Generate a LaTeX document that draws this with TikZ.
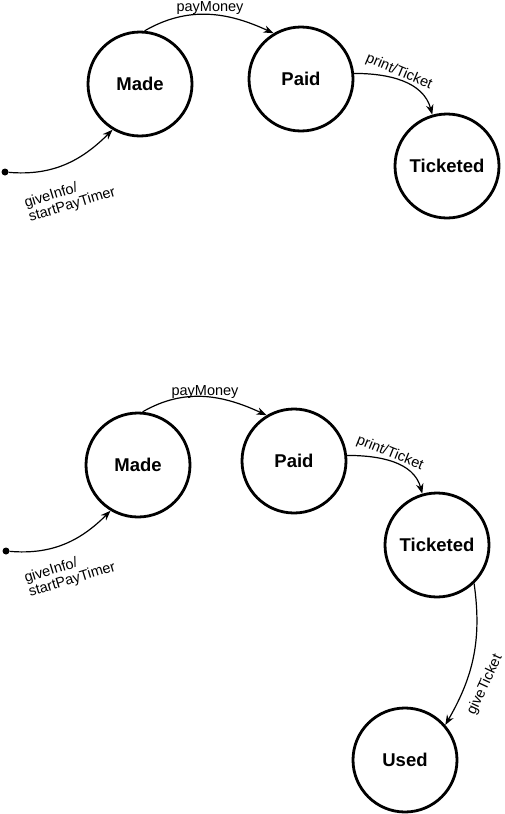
\documentclass[tikz,border=0pt]{standalone}
\usepackage{fontspec}
\setmainfont{Liberation Sans}
\usetikzlibrary{arrows.meta}
\begin{document}
\begin{tikzpicture}[x=1pt,y=-1pt,
  state/.style={circle,draw,line width=2.8pt,minimum size=104pt,inner sep=0pt,font=\fontsize{18.5}{21}\selectfont\bfseries},
  trans/.style={line width=1.2pt,-{Stealth[length=10pt,width=7.5pt]}},
  lbl/.style={font=\fontsize{14.5}{15}\selectfont,inner sep=0pt},
  startdot/.style={circle,fill,inner sep=0pt,minimum size=7pt}]
\useasboundingbox (0,0) rectangle (505,814);
% ---------- top diagram ----------
\node[state] (made1) at (140,84) {Made};
\node[state] (paid1) at (301,79) {Paid};
\node[state] (tick1) at (447,166) {Ticketed};
\node[startdot] (s1) at (5,172) {};
\draw[trans] (s1) to[out=-5,in=-135] (made1.-121);
\draw[trans] (made1.85) to[out=30,in=155] (paid1.121);
\draw[trans] (paid1.6) to[out=0,in=105] (tick1.106);
\node[lbl,rotate=17,align=left] (l1) at (70,198) {giveInfo/\\startPayTimer};
\node[lbl] (l2) at (210,8) {payMoney};
\node[lbl,rotate=-23] (l3) at (399,72) {print/Ticket};
% ---------- bottom diagram ----------
\node[state] (made2) at (138,465) {Made};
\node[state] (paid2) at (294,461) {Paid};
\node[state] (tick2) at (437,545) {Ticketed};
\node[state] (used2) at (405,760) {Used};
\node[startdot] (s2) at (6,551) {};
\draw[trans] (s2) to[out=-5,in=-135] (made2.-121);
\draw[trans] (made2.85) to[out=30,in=155] (paid2.121);
\draw[trans] (paid2.6) to[out=0,in=105] (tick2.106);
\draw[trans] (tick2.-46) to[out=-82,in=60] (used2.41);
\node[lbl,rotate=17,align=left] (l4) at (70,573) {giveInfo/\\startPayTimer};
\node[lbl] (l5) at (205,392) {payMoney};
\node[lbl,rotate=-22] (l6) at (390,453) {print/Ticket};
\node[lbl,rotate=65] (l7) at (485,685) {giveTicket};
\end{tikzpicture}
\end{document}
